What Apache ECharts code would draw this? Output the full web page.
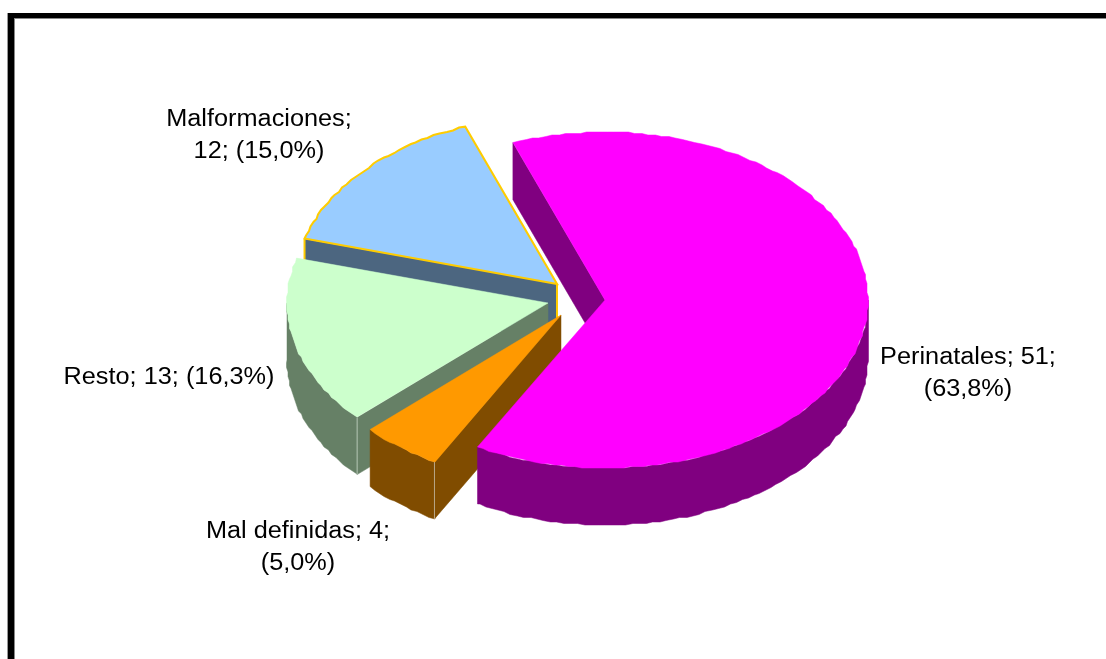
<!DOCTYPE html>
<html>
<head>
<meta charset="utf-8">
<style>html,body{margin:0;padding:0;background:#fff}#chart{width:1106px;height:659px}</style>
<script src="https://cdn.jsdelivr.net/npm/echarts@6/dist/echarts.min.js"></script>
</head>
<body>
<div id="chart"></div>
<script>
// Causes of death, drawn as an exploded pseudo-3D pie
const categories = ['Perinatales', 'Mal definidas', 'Resto', 'Malformaciones'];
const values = [51, 4, 13, 12];
const topColors = ['#FF00FF', '#FF9900', '#CCFFCC', '#99CCFF'];
const sideColors = ['#800080', '#804C00', '#668066', '#4C6680'];
const rimColors = [null, '#B8A888', '#B4C4B4', '#FFCC00'];
// Apex of each slice on the page once it has been pulled out of the pie, and its horizontal radius
const apexX = [605, 561, 548, 557];
const apexY = [300, 315, 303, 284];
const radiusX = [263, 261, 261, 262];
// Label centre and how many words sit on its first line
const labelX = [968, 298, 169, 259];
const labelY = [374, 548, 378, 136];
const labelFirstLineWords = [2, 3, 9, 1];
// Back-to-front painting order
const drawOrder = [3, 2, 1, 0];

const RY = 168, DEPTH = 57, START_ANGLE = -20.5, GRID = 1.5, STEP = 1.5;
const total = values.reduce((a, b) => a + b, 0);

function labelText(i) {
  const tenths = Math.round(values[i] * 1000 / total);
  const pct = (tenths / 10).toFixed(1).replace('.', ',');
  const words = (categories[i] + '; ' + values[i] + '; (' + pct + '%)').split(' ');
  const head = words.slice(0, labelFirstLineWords[i]).join(' ');
  const tail = words.slice(labelFirstLineWords[i]).join(' ');
  return tail ? head + '\n' + tail : head;
}

const snap = v => Math.round(v / GRID) * GRID;
const rad = d => d * Math.PI / 180;

function rimPoint(cx, cy, rx, deg, dy) {
  return [snap(cx + rx * Math.sin(rad(deg))), snap(cy - RY * Math.cos(rad(deg))) + (dy || 0)];
}

function arc(cx, cy, rx, from, to, dy) {
  const pts = [];
  for (let a = from; a < to; a += STEP) pts.push(rimPoint(cx, cy, rx, a, dy));
  pts.push([cx + rx * Math.sin(rad(to)), cy - RY * Math.cos(rad(to)) + (dy || 0)]);
  return pts;
}

function poly(points, fill, stroke, width, z2) {
  return {
    type: 'polygon', z2: z2,
    shape: { points: points },
    style: { fill: fill, stroke: stroke || fill, lineWidth: stroke ? (width || 1) : 0.5 }
  };
}

function line(p, q, color, width, z2) {
  return {
    type: 'line', z2: z2,
    shape: { x1: p[0], y1: p[1], x2: q[0], y2: q[1] },
    style: { stroke: color, lineWidth: width, fill: null }
  };
}

function renderSlice(params, api) {
  const i = api.value(0);
  const value = api.value(1);
  let before = 0;
  for (let k = 0; k < i; k++) before += values[k];
  const from = START_ANGLE + before / total * 360;
  const to = from + value / total * 360;
  const cx = apexX[i], cy = apexY[i], rx = radiusX[i];
  const side = sideColors[i], top = topColors[i], rim = rimColors[i];
  const isOutlined = rim === '#FFCC00';
  const base = params.dataIndex * 10;
  const children = [];
  const edge = a => [cx + rx * Math.sin(rad(a)), cy - RY * Math.cos(rad(a))];

  // Flat walls along the two cuts, kept only when they face the viewer
  if (Math.sin(rad(from)) < 0) {
    const e = edge(from);
    children.push(poly([[cx, cy], e, [e[0], e[1] + DEPTH], [cx, cy + DEPTH]], side, null, 0, base + 1));
  }
  if (Math.sin(rad(to)) > 0) {
    const e = edge(to);
    children.push(poly([[cx, cy], e, [e[0], e[1] + DEPTH], [cx, cy + DEPTH]], side, null, 0, base + 1));
  }

  // Curved outer wall: the part of the rim on the near half of the ellipse
  const lo = Math.max(from, 90), hi = Math.min(to, 270);
  if (hi > lo) {
    const upper = arc(cx, cy, rx, lo, hi, 0);
    const lower = arc(cx, cy, rx, lo, hi, DEPTH).reverse();
    children.push(poly(upper.concat(lower), side, null, 0, base + 2));
  }

  // Vertical seams at the corners of the slice
  if (rim) {
    const e = edge(from);
    children.push(line(e, [e[0], e[1] + DEPTH], rim, isOutlined ? 2 : 1, base + 3));
    if (isOutlined) children.push(line([cx, cy], [cx, cy + DEPTH], rim, 2, base + 3));
  }

  // Top face
  const face = [[cx, cy]].concat(arc(cx, cy, rx, from, to, 0));
  children.push(poly(face, top, isOutlined ? rim : null, 2, base + 4));

  // Data label
  children.push({
    type: 'text', z2: 100,
    x: labelX[i], y: labelY[i], scaleX: 1.1,
    style: {
      x: 0, y: 0, text: labelText(i),
      fill: '#000', font: '23px "Liberation Sans", Arial, sans-serif',
      align: 'center', verticalAlign: 'middle', lineHeight: 32
    }
  });
  return { type: 'group', children: children };
}

const chart = echarts.init(document.getElementById('chart'), null, { renderer: 'canvas' });
chart.setOption({
  animation: false,
  backgroundColor: '#fff',
  graphic: [
    { type: 'rect', shape: { x: 7, y: 13, width: 1, height: 660 }, style: { fill: '#999' } },
    { type: 'rect', shape: { x: 14, y: 18, width: 1, height: 660 }, style: { fill: '#888' } },
    { type: 'rect', shape: { x: 14, y: 18, width: 1100, height: 1 }, style: { fill: '#888' } },
    { type: 'rect', shape: { x: 8, y: 13, width: 6, height: 660 }, style: { fill: '#000' } },
    { type: 'rect', shape: { x: 8, y: 13, width: 1100, height: 5 }, style: { fill: '#000' } }
  ],
  series: [{
    type: 'custom',
    coordinateSystem: 'none',
    renderItem: renderSlice,
    encode: { value: 1 },
    data: drawOrder.map(i => [i, values[i]])
  }]
});
</script>
</body>
</html>
